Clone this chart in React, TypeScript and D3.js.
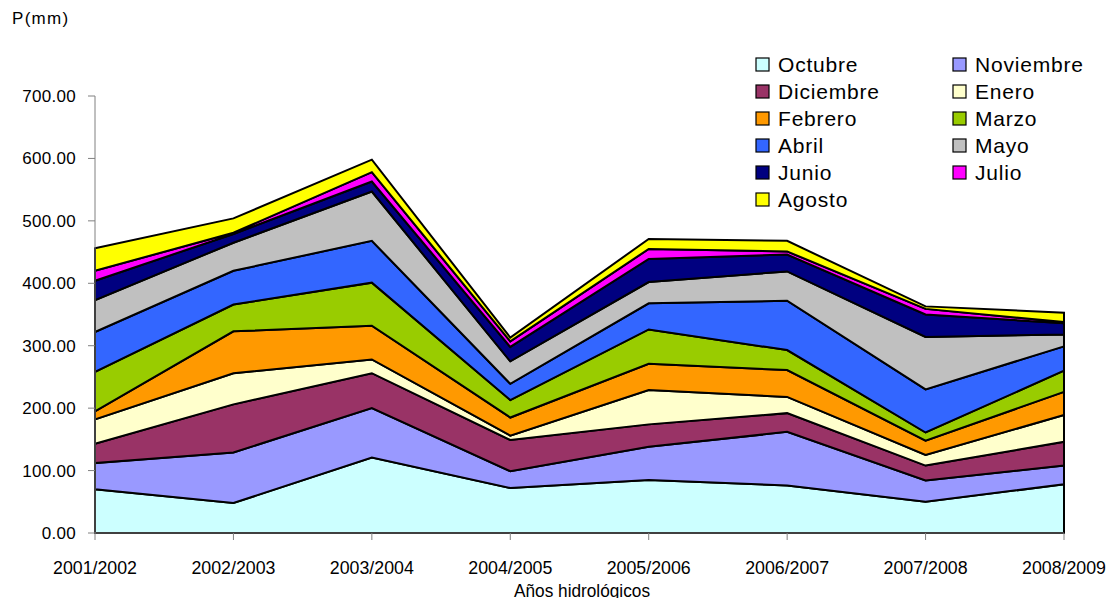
import React, { useEffect, useRef } from 'react';
import * as d3 from 'd3';

// hydrological years (x categories)
const years = ['2001/2002', '2002/2003', '2003/2004', '2004/2005', '2005/2006', '2006/2007', '2007/2008', '2008/2009'];

// monthly precipitation (mm) per year
const octubre = [70, 48, 121, 72, 85, 76, 50, 78];
const noviembre = [42, 81, 79, 27, 53, 86, 34, 30];
const diciembre = [31, 77, 56, 50, 36, 30, 24, 38];
const enero = [39, 50, 22, 7, 55, 26, 17, 43];
const febrero = [13, 67, 54, 29, 42, 43, 23, 37];
const marzo = [63, 43, 69, 28, 55, 32, 13, 34];
const abril = [64, 54, 67, 26, 42, 79, 69, 39];
const mayo = [51, 45, 79, 36, 34, 47, 84, 19];
const junio = [31, 14, 16, 23, 37, 27, 36, 18];
const julio = [16, 2, 15, 9, 16, 5, 9, 2];
const agosto = [36, 23, 20, 6, 16, 17, 4, 15];

const months = ['Octubre', 'Noviembre', 'Diciembre', 'Enero', 'Febrero', 'Marzo', 'Abril', 'Mayo', 'Junio', 'Julio', 'Agosto'];
const series = [octubre, noviembre, diciembre, enero, febrero, marzo, abril, mayo, junio, julio, agosto];
const colors = ['#CCFFFF', '#9999FF', '#993366', '#FFFFCC', '#FF9900', '#99CC00', '#3366FF', '#C0C0C0', '#000080', '#FF00FF', '#FFFF00'];

const yTicks = [0, 100, 200, 300, 400, 500, 600, 700];

const W = 1114;
const H = 606;

const StackedChart = () => {
  const svgRef = useRef<SVGSVGElement>(null);

  useEffect(() => {
    const svg = d3.select(svgRef.current);
    svg.selectAll('*').remove();

    const x = d3.scalePoint<string>().domain(years).range([95, 1064]);
    const y = d3.scaleLinear().domain([0, 700]).range([533, 96]);

    // build table rows: one per year
    const rows = years.map((yr, i) => {
      const r: any = { year: yr };
      months.forEach((m, k) => { r[m] = series[k][i]; });
      return r;
    });

    const stacked = d3.stack<any>().keys(months)(rows);

    const area = d3.area<any>()
      .x((d) => x(d.data.year) as number)
      .y0((d) => y(d[0]))
      .y1((d) => y(d[1]));

    const axisColor = '#808080';

    // areas
    svg.append('g')
      .selectAll('path')
      .data(stacked)
      .join('path')
      .attr('d', area)
      .attr('fill', (_, i) => colors[i])
      .attr('stroke', '#000')
      .attr('stroke-width', 2)
      .attr('stroke-linejoin', 'miter');

    // y axis
    svg.append('line')
      .attr('x1', 95).attr('x2', 95)
      .attr('y1', y(700)).attr('y2', y(0))
      .attr('stroke', axisColor).attr('stroke-width', 1);

    const yg = svg.append('g');
    yTicks.forEach((t) => {
      yg.append('line')
        .attr('x1', 88).attr('x2', 95)
        .attr('y1', y(t)).attr('y2', y(t))
        .attr('stroke', axisColor);
      yg.append('text')
        .attr('x', 76)
        .attr('y', y(t))
        .attr('dy', '0.35em')
        .attr('text-anchor', 'end')
        .style('font-family', 'Liberation Sans, Arial, sans-serif')
        .style('font-size', '17px')
        .style('letter-spacing', '0.3px')
        .style('fill', '#000')
        .text(t.toFixed(2));
    });

    // x axis
    svg.append('line')
      .attr('x1', 95).attr('x2', 1064)
      .attr('y1', y(0)).attr('y2', y(0))
      .attr('stroke', axisColor);

    const xg = svg.append('g');
    years.forEach((yr) => {
      const px = x(yr) as number;
      xg.append('line')
        .attr('x1', px).attr('x2', px)
        .attr('y1', y(0)).attr('y2', y(0) + 7)
        .attr('stroke', axisColor);
      xg.append('text')
        .attr('x', px)
        .attr('y', 568)
        .attr('dy', '0.35em')
        .attr('text-anchor', 'middle')
        .attr('textLength', 84)
        .attr('lengthAdjust', 'spacingAndGlyphs')
        .style('font-family', 'Liberation Sans, Arial, sans-serif')
        .style('font-size', '18px')
        .style('fill', '#000')
        .text(yr);
    });

    svg.append('text')
      .attr('x', 582)
      .attr('y', 591)
      .attr('dy', '0.35em')
      .attr('text-anchor', 'middle')
      .attr('textLength', 136)
      .attr('lengthAdjust', 'spacingAndGlyphs')
      .style('font-family', 'Liberation Sans, Arial, sans-serif')
      .style('font-size', '18px')
      .style('fill', '#000')
      .text('Años hidrológicos');

    svg.append('text')
      .attr('x', 12)
      .attr('y', 18)
      .attr('dy', '0.35em')
      .style('font-family', 'Liberation Sans, Arial, sans-serif')
      .style('font-size', '17px')
      .style('letter-spacing', '1.3px')
      .style('fill', '#000')
      .text('P(mm)');

    // legend, two columns
    const lg = svg.append('g');
    months.forEach((m, i) => {
      const col = i % 2;
      const row = Math.floor(i / 2);
      const lx = col === 0 ? 756 : 953;
      const ly = 65 + row * 27;
      lg.append('rect')
        .attr('x', lx).attr('y', ly - 7)
        .attr('width', 13).attr('height', 13)
        .attr('fill', colors[i])
        .attr('stroke', '#000').attr('stroke-width', 1.2);
      lg.append('text')
        .attr('x', lx + 22)
        .attr('y', ly)
        .attr('dy', '0.35em')
        .style('font-family', 'Liberation Sans, Arial, sans-serif')
        .style('font-size', '21px')
        .style('letter-spacing', '0.8px')
        .style('fill', '#000')
        .text(m);
    });
  }, []);

  return <svg ref={svgRef} width={W} height={H} style={{ display: 'block', background: '#fff' }} />;
};

export default function App() {
  return (
    <div style={{ margin: -8 }}>
      <StackedChart />
    </div>
  );
}
